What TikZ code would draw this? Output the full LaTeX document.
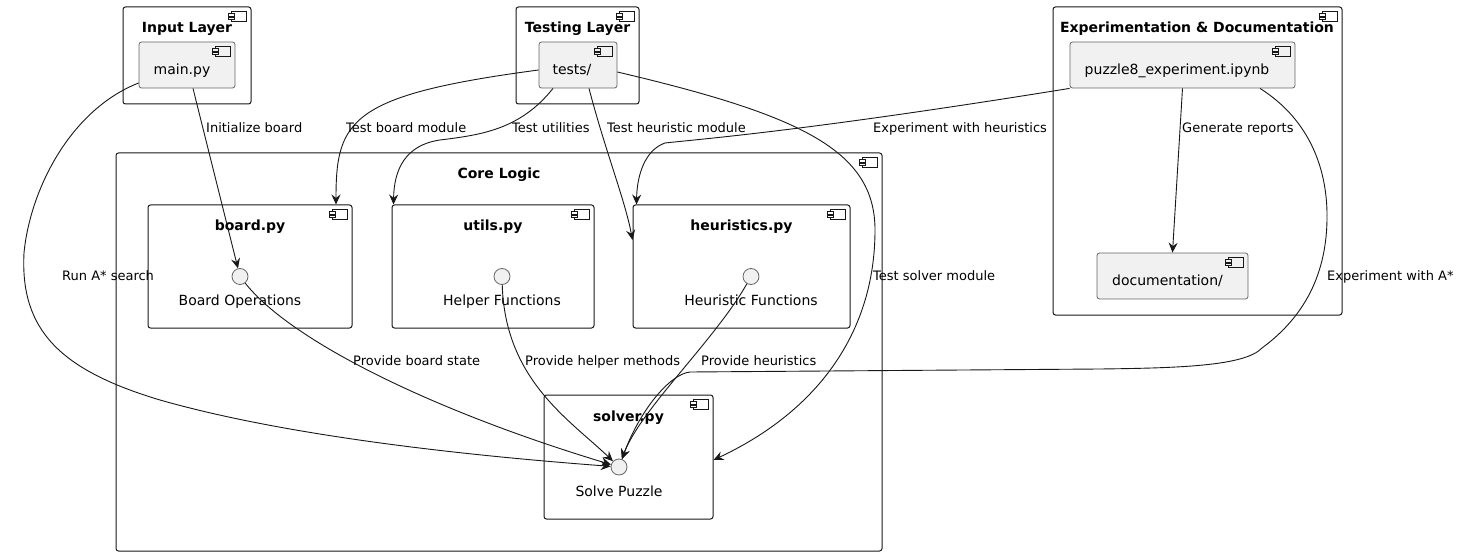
\documentclass[tikz,border=0pt]{standalone}
\usepackage{fontspec}
\setmainfont{DejaVu Sans}
\usetikzlibrary{arrows.meta}
\definecolor{cgray}{HTML}{F1F1F1}
\definecolor{cline}{HTML}{181818}
\tikzset{
  pics/cicon/.style={code={
    \filldraw[fill=#1, draw=cline, line width=0.7pt] (-15,0) rectangle (0,10);
    \filldraw[fill=#1, draw=cline, line width=0.7pt] (-18,2) rectangle (-12,4.5);
    \filldraw[fill=#1, draw=cline, line width=0.7pt] (-18,5.5) rectangle (-12,8);
  }},
  pkg/.style={draw=cline, line width=1pt, rounded corners=2.5pt, fill=white, inner sep=0pt},
  comp/.style={draw=black!60, line width=0.8pt, rounded corners=2.5pt, fill=cgray, inner sep=0pt},
  sub/.style={draw=cline, line width=1pt, rounded corners=2.5pt, fill=white, inner sep=0pt},
  iface/.style={circle, draw=black!60, line width=0.8pt, fill=cgray, minimum size=16pt, inner sep=0pt},
  ttl/.style={font=\fontsize{14}{16}\selectfont\bfseries, inner sep=0pt, anchor=base},
  ctxt/.style={font=\fontsize{14}{16}\selectfont, inner sep=0pt, anchor=base},
  elab/.style={font=\fontsize{13}{15}\selectfont, inner sep=0pt, anchor=base west},
  conn/.style={draw=cline, line width=0.9pt, -{Stealth[length=10pt,width=9pt,inset=3.5pt]}}
}
\begin{document}
\begin{tikzpicture}[x=1pt,y=-1pt]
\useasboundingbox[fill=white] (0,0) rectangle (1460,556);

% containers
\node[pkg, minimum width=766, minimum height=398] (core) at (499,352) {};
\pic at ([xshift=-5pt,yshift=-5pt]core.north east) {cicon=white};
\node[ttl] (coreT) at (499,179) {Core Logic};

\node[pkg, minimum width=128, minimum height=97] (inputL) at (187,55.5) {};
\pic at ([xshift=-5pt,yshift=-5pt]inputL.north east) {cicon=white};
\node[ttl] (inputT) at (187,33) {Input Layer};

\node[pkg, minimum width=123, minimum height=97] (testL) at (577.5,55.5) {};
\pic at ([xshift=-5pt,yshift=-5pt]testL.north east) {cicon=white};
\node[ttl] (testT) at (577.5,33) {Testing Layer};

\node[pkg, minimum width=289, minimum height=308] (expL) at (1197.5,161) {};
\pic at ([xshift=-5pt,yshift=-5pt]expL.north east) {cicon=white};
\node[ttl] (expT) at (1197,33) {Experimentation \& Documentation};

% gray components
\node[comp, minimum width=96, minimum height=46] (mainpy) at (187,65) {};
\pic at ([xshift=-5pt,yshift=-5pt]mainpy.north east) {cicon=cgray};
\node[ctxt] (mainT) at (182,75) {main.py};

\node[comp, minimum width=78, minimum height=46] (tests) at (578,65) {};
\pic at ([xshift=-5pt,yshift=-5pt]tests.north east) {cicon=cgray};
\node[ctxt] (testsT) at (572,75) {tests/};

\node[comp, minimum width=225, minimum height=46] (puzzle) at (1182.5,65) {};
\pic at ([xshift=-5pt,yshift=-5pt]puzzle.north east) {cicon=cgray};
\node[ctxt] (puzzleT) at (1177,75) {puzzle8\_experiment.ipynb};

\node[comp, minimum width=151, minimum height=46] (docs) at (1172.5,276) {};
\pic at ([xshift=-5pt,yshift=-5pt]docs.north east) {cicon=cgray};
\node[ctxt] (docsT) at (1167.5,286) {documentation/};

% sub components
\node[sub, minimum width=204, minimum height=123] (board) at (250,266.5) {};
\pic at ([xshift=-5pt,yshift=-5pt]board.north east) {cicon=white};
\node[ttl] (boardT) at (250,230.5) {board.py};
\node[iface] (boardC) at (240,276.5) {};
\node[ctxt] (boardL) at (240,305.5) {Board Operations};

\node[sub, minimum width=202, minimum height=123] (utils) at (493,266.5) {};
\pic at ([xshift=-5pt,yshift=-5pt]utils.north east) {cicon=white};
\node[ttl] (utilsT) at (493,230.5) {utils.py};
\node[iface] (utilsC) at (502,276.5) {};
\node[ctxt] (utilsL) at (502,305.5) {Helper Functions};

\node[sub, minimum width=217, minimum height=123] (heur) at (741.5,266.5) {};
\pic at ([xshift=-5pt,yshift=-5pt]heur.north east) {cicon=white};
\node[ttl] (heurT) at (741.5,230.5) {heuristics.py};
\node[iface] (heurC) at (751,276.5) {};
\node[ctxt] (heurL) at (751,305.5) {Heuristic Functions};

\node[sub, minimum width=169, minimum height=124] (solver) at (628.5,457) {};
\pic at ([xshift=-5pt,yshift=-5pt]solver.north east) {cicon=white};
\node[ttl] (solverT) at (628.5,421) {solver.py};
\node[iface] (solveC) at (619,467) {};
\node[ctxt] (solverL) at (619,496) {Solve Puzzle};

% connectors
\draw[conn] ([xshift=6pt]mainpy.south) -- (boardC);
\draw[conn] ([yshift=-18pt]mainpy.west) .. controls (70,110) and (30,190) .. (24,253)
  .. controls (20,330) and (60,370) .. (160,400)
  .. controls (300,440) and (500,458) .. (solveC);
\draw[conn] ([yshift=-5pt]tests.west) .. controls (350,95) and (336,120) .. ([xshift=86pt]board.north);
\draw[conn] ([xshift=-25pt]tests.south) .. controls (520,130) and (480,135) .. (440,140)
  .. controls (405,145) and (394,170) .. ([xshift=2pt]utils.north west);
\draw[conn] ([xshift=11pt]tests.south) .. controls (605,150) and (625,200) .. ([yshift=26.5pt]heur.west);
\draw[conn] ([yshift=-7pt]tests.east) .. controls (800,115) and (875,150) .. (875,230)
  .. controls (875,330) and (820,410) .. ([yshift=-3pt]solver.east);
\draw[conn] (puzzle.south west) .. controls (800,132) and (690,140) .. (665,143)
  .. controls (645,150) and (637,175) .. ([xshift=4pt]heur.north west);
\draw[conn] (puzzle.south) -- (docs.north);
\draw[conn] ([xshift=77.5pt]puzzle.south) .. controls (1310,120) and (1328,170) .. (1327,220)
  .. controls (1326,280) and (1300,320) .. (1262,348)
  .. controls (1245,366) and (1180,368) .. (1100,369)
  -- (690,372) .. controls (670,374) and (640,410) .. (solveC);
\draw[conn] (boardC) .. controls (290,340) and (430,410) .. (solveC);
\draw[conn] (utilsC) .. controls (505,380) and (570,420) .. (solveC);
\draw[conn] (heurC) .. controls (715,340) and (640,410) .. (solveC);

% edge labels
\node[elab] (l1) at (206,132.5) {Initialize board};
\node[elab] (l2) at (346,132.5) {Test board module};
\node[elab] (l3) at (512,132.5) {Test utilities};
\node[elab] (l4) at (607,132.5) {Test heuristic module};
\node[elab] (l5) at (873,132.5) {Experiment with heuristics};
\node[elab] (l6) at (1182,132.5) {Generate reports};
\node[elab] (l7) at (62,281) {Run A* search};
\node[elab] (l8) at (873,281) {Test solver module};
\node[elab] (l9) at (1327,281) {Experiment with A*};
\node[elab] (l10) at (353,365.5) {Provide board state};
\node[elab] (l11) at (525,365.5) {Provide helper methods};
\node[elab] (l12) at (701,365.5) {Provide heuristics};
\end{tikzpicture}
\end{document}
